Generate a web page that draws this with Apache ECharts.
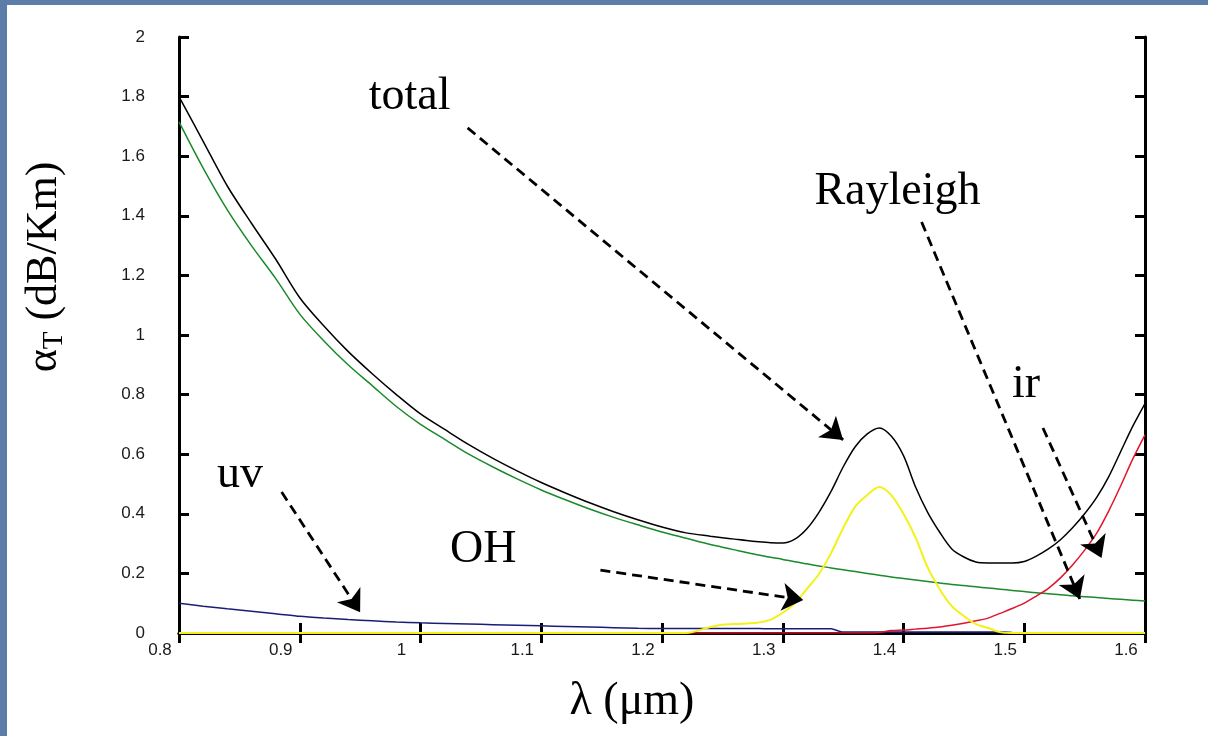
<!DOCTYPE html>
<html>
<head>
<meta charset="utf-8">
<script src="https://cdn.jsdelivr.net/npm/echarts@6/dist/echarts.min.js"></script>
<style>
html,body{margin:0;padding:0;background:#5b7da8;}
#chart{width:1208px;height:736px;}
</style>
</head>
<body>
<div id="chart"></div>
<script>
// wavelength samples (µm)
const wavelength = [0.80,0.82,0.84,0.86,0.88,0.90,0.92,0.94,0.96,0.98,1.00,1.02,1.04,1.06,1.08,1.10,1.12,1.14,1.16,1.18,1.20,1.22,1.24,
  1.25,1.26,1.27,1.28,1.29,1.30,1.31,1.32,1.33,1.34,1.35,1.36,1.37,1.38,1.39,1.40,1.41,1.42,1.43,1.44,1.45,1.46,1.47,1.48,1.49,1.50,
  1.51,1.52,1.53,1.54,1.55,1.56,1.57,1.58,1.59,1.60];

const totalLoss = [1.80,1.65,1.50,1.375,1.255,1.125,1.03,0.945,0.87,0.80,0.735,0.683,0.632,0.586,0.544,0.505,0.47,0.437,0.407,0.38,0.356,0.336,0.325,
  0.32,0.315,0.31,0.306,0.303,0.302,0.315,0.35,0.405,0.475,0.557,0.625,0.668,0.688,0.66,0.595,0.49,0.405,0.338,0.282,0.255,0.238,0.235,0.235,0.235,0.24,
  0.258,0.282,0.313,0.353,0.40,0.455,0.525,0.61,0.695,0.77];

const rayleighLoss = [1.715,1.56,1.42,1.30,1.19,1.07,0.98,0.90,0.83,0.76,0.70,0.65,0.60,0.557,0.517,0.48,0.447,0.416,0.388,0.363,0.339,0.318,0.297,
  0.288,0.279,0.270,0.262,0.254,0.247,0.239,0.232,0.225,0.218,0.212,0.206,0.200,0.194,0.188,0.183,0.178,0.173,0.168,0.163,0.159,0.155,0.151,0.147,0.143,0.139,
  0.135,0.132,0.128,0.125,0.122,0.119,0.116,0.113,0.110,0.107];

const uvLoss = [0.100,0.090,0.081,0.073,0.065,0.056,0.050,0.045,0.041,0.037,0.034,0.032,0.030,0.028,0.026,0.024,0.022,0.020,0.018,0.016,0.015,0.015,0.015,
  0.015,0.015,0.015,0.015,0.014,0.014,0.014,0.014,0.014,0.014,0.003,0.003,0.003,0.003,0.003,0.003,0.003,0.003,0.003,0.003,0.003,0.003,0.003,0.003,0.002,null,
  null,null,null,null,null,null,null,null,null,null];

const irLoss = [null,null,null,null,null,null,null,null,null,null,null,null,null,null,null,null,null,null,null,null,0,0,0,
  0,0,0,0,0,0,0,0,0,0,0,0,0,0.002,0.008,0.010,0.013,0.016,0.020,0.026,0.033,0.041,0.050,0.066,0.082,0.100,
  0.124,0.150,0.185,0.228,0.278,0.335,0.410,0.495,0.585,0.665];

const ohLoss = [0,0,0,0,0,0,0,0,0,0,0,0,0,0,0,0,0,0,0,0,0,0,0.02,
  0.028,0.030,0.032,0.035,0.045,0.068,0.100,0.148,0.198,0.268,0.352,0.424,0.463,0.490,0.462,0.400,0.320,0.220,0.147,0.090,0.057,0.030,0.017,0.003,0,0,
  0,0,0,0,0,0,0,0,0,0];

// annotation texts and their anchor points (data coordinates)
const annotationLabels = ['total','Rayleigh','ir','uv','OH'];
const annotationX = [0.991,1.395,1.5015,0.8505,1.052];
const annotationY = [1.799,1.480,0.832,0.530,0.279];

// dashed arrows: start and end (data coordinates)
const arrowStartX = [1.039,1.415,1.5155,0.885,1.149];
const arrowStartY = [1.695,1.379,0.688,0.473,0.211];
const arrowEndX   = [1.350,1.546,1.564,0.950,1.317];
const arrowEndY   = [0.648,0.114,0.252,0.070,0.111];

const xTicks = {min:0.8, max:1.6, interval:0.1};
const yTicks = {min:0, max:2, interval:0.2};

function pairs(arr){ return wavelength.map((x,i)=>[x, arr[i]]); }

const chart = echarts.init(document.getElementById('chart'), null, {renderer:'canvas'});

const axisLineStyle = {color:'#000', width:3};
const tickStyle = {show:true, inside:true, length:10, lineStyle:{color:'#000', width:3}};
const labelFont = {fontFamily:'Liberation Sans, Arial, sans-serif', fontSize:17, color:'#1a1a1a'};
const serif = 'Liberation Serif, Times New Roman, serif';

const arrowData = arrowStartX.map((x,i)=>[
  {coord:[x, arrowStartY[i]]},
  {coord:[arrowEndX[i], arrowEndY[i]]}
]);

const option = {
  backgroundColor:'#5b7da8',
  animation:false,
  graphic:[{type:'rect', left:7, top:5, shape:{width:1201, height:731}, style:{fill:'#ffffff'}, z:-10, silent:true}],
  grid:{left:179, right:63, top:37, bottom:103},
  xAxis:[
    {type:'value', min:xTicks.min, max:xTicks.max, interval:xTicks.interval, position:'bottom',
     axisLine:{show:true, lineStyle:axisLineStyle}, axisTick:tickStyle, splitLine:{show:false},
     axisLabel:Object.assign({margin:9, padding:[0,38,0,0]}, labelFont),
     name:'λ (μm)', nameLocation:'middle', nameGap:46,
     nameTextStyle:{fontFamily:serif, fontSize:46, color:'#000', padding:[0,60,0,0]}},
    {type:'value', min:xTicks.min, max:xTicks.max, interval:xTicks.interval, position:'top',
     axisLine:{show:true, lineStyle:axisLineStyle}, axisTick:tickStyle, splitLine:{show:false},
     axisLabel:{show:false}}
  ],
  yAxis:[
    {type:'value', min:yTicks.min, max:yTicks.max, interval:yTicks.interval, position:'left',
     axisLine:{show:true, lineStyle:axisLineStyle}, axisTick:tickStyle, splitLine:{show:false},
     axisLabel:Object.assign({margin:34, padding:[0,0,14,0]}, labelFont),
     name:'{a|α}{s|T}{a| (dB/Km)}', nameLocation:'middle', nameRotate:90, nameGap:110,
     nameTextStyle:{fontFamily:serif, fontSize:44, color:'#000', padding:[0,0,0,136],
       rich:{a:{fontFamily:serif, fontSize:44, color:'#000', lineHeight:50, verticalAlign:'middle'},
             s:{fontFamily:serif, fontSize:29, color:'#000', lineHeight:50, verticalAlign:'bottom'}}}},
    {type:'value', min:yTicks.min, max:yTicks.max, interval:yTicks.interval, position:'right',
     axisLine:{show:true, lineStyle:axisLineStyle}, axisTick:tickStyle, splitLine:{show:false},
     axisLabel:{show:false}}
  ],
  series:[
    {name:'Rayleigh', type:'line', data:pairs(rayleighLoss), symbol:'none', smooth:0.3, lineStyle:{color:'#1a8a2a', width:1.5}, silent:true},
    {name:'uv', type:'line', data:pairs(uvLoss), symbol:'none', smooth:0.2, lineStyle:{color:'#1c1c78', width:1.5}, silent:true},
    {name:'ir', type:'line', data:pairs(irLoss), symbol:'none', smooth:0.3, lineStyle:{color:'#e0142c', width:1.5}, silent:true},
    {name:'OH', type:'line', data:pairs(ohLoss), symbol:'none', smooth:0.3, lineStyle:{color:'#f2f21a', width:2}, silent:true},
    {name:'total', type:'line', data:pairs(totalLoss), symbol:'none', smooth:0.3, itemStyle:{color:'#000'}, lineStyle:{color:'#000', width:1.5}, silent:true,
     markLine:{silent:true, symbol:['none','arrow'], symbolSize:21,
       label:{show:false}, itemStyle:{color:'#000'}, lineStyle:{color:'#000', width:2.8, type:[10,6]},
       emphasis:{disabled:true}, data:arrowData}},
    {name:'labels', type:'scatter', symbolSize:1, itemStyle:{color:'rgba(0,0,0,0)', opacity:1}, silent:true,
     data:annotationLabels.map((t,i)=>({name:t, value:[annotationX[i], annotationY[i]]})),
     label:{show:true, position:'inside', formatter:p=>p.name, fontFamily:serif, fontSize:46, color:'#000', opacity:1}}
  ]
};
chart.setOption(option);
</script>
</body>
</html>
